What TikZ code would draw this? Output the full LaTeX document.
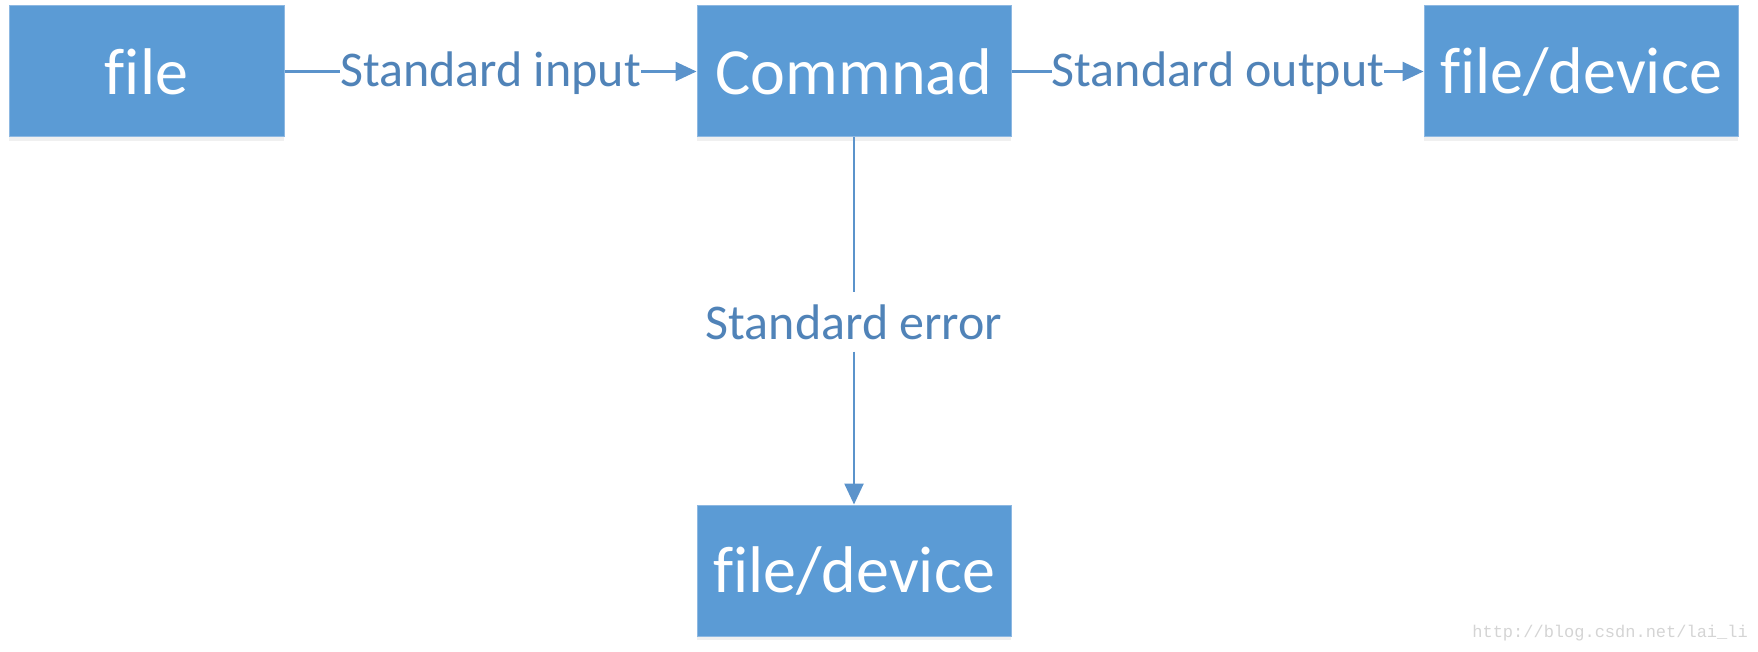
\documentclass[tikz,border=0pt]{standalone}
\usepackage{fontspec}
\setmainfont{Carlito}[Ligatures={NoCommon}]
\setmonofont{Liberation Mono}
\usetikzlibrary{arrows.meta,shadows}
\definecolor{boxblue}{HTML}{5B9BD5}
\definecolor{boxedge}{HTML}{8DB8E2}
\definecolor{lineblue}{HTML}{5B93CB}
\definecolor{labelblue}{HTML}{5083B8}
\definecolor{wmgray}{HTML}{D4D4D4}
\begin{document}
\begin{tikzpicture}[x=1pt,y=-1pt,
  boxnode/.style={draw=boxedge,line width=1pt,fill=boxblue,text=white,
    minimum height=131pt,inner sep=0pt,font=\fontsize{66}{70}\selectfont,
    drop shadow={opacity=0.12,shadow xshift=0pt,shadow yshift=-4pt}},
  lbl/.style={text=labelblue,inner sep=0pt,font=\fontsize{50}{54}\selectfont},
  conn/.style={draw=lineblue,line width=2.5pt},
  arr/.style={conn,-{Triangle[length=21pt,width=19pt]}}]
\useasboundingbox (0,0) rectangle (1758,652);
\node[boxnode,minimum width=275pt] (file) at (146.5,71.5) {file};
\node[boxnode,minimum width=314pt] (cmd) at (854,71.5) {Commnad};
\node[boxnode,minimum width=314pt] (out) at (1581,71.5) {file/device};
\node[boxnode,minimum width=314pt] (err) at (854,570.5) {file/device};
\node[lbl] (lin) at (490.5,73.5) {Standard input};
\node[lbl] (lout) at (1218,73.5) {Standard output};
\node[lbl,inner ysep=12pt] (lerr) at (854,322) {Standard error};
\draw[conn] (file.east) -- (lin.west |- file.east);
\draw[arr] (lin.east |- cmd.west) -- (cmd.west);
\draw[conn] (cmd.east) -- (lout.west |- cmd.east);
\draw[arr] (lout.east |- out.west) -- (out.west);
\draw[conn] (cmd.south) -- (lerr.north);
\draw[arr] (lerr.south) -- (err.north);
\node[text=wmgray,font=\ttfamily\fontsize{17}{18}\selectfont,anchor=east,inner sep=0pt] (wm) at (1748,633) {http://blog.csdn.net/lai\_li};
\end{tikzpicture}
\end{document}
